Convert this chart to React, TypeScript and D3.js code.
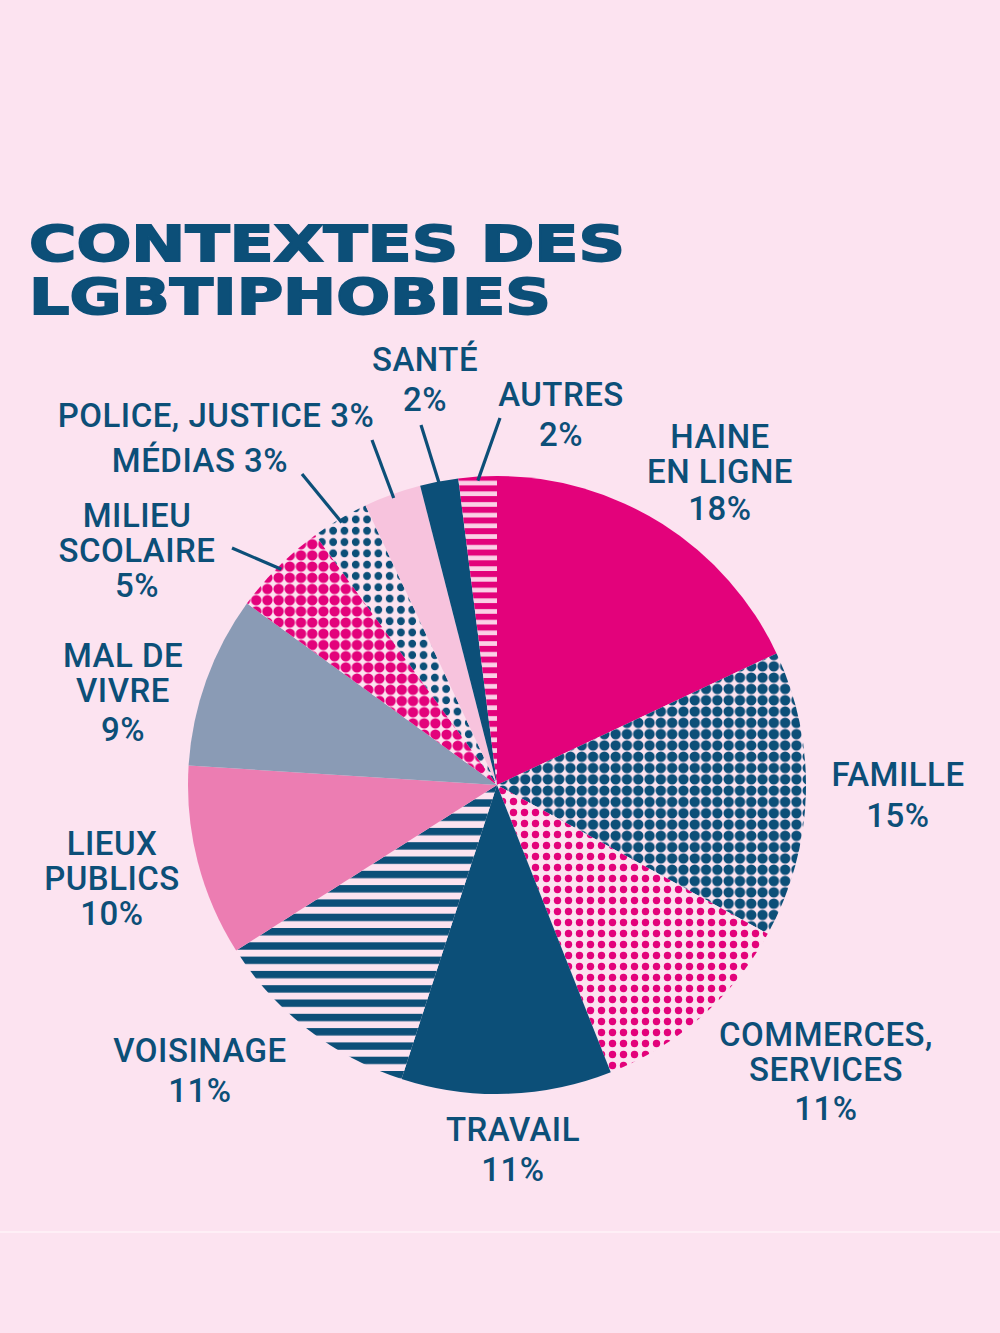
import React from "react";
import * as d3 from "d3";

const categories = [
  "HAINE EN LIGNE",
  "FAMILLE",
  "COMMERCES, SERVICES",
  "TRAVAIL",
  "VOISINAGE",
  "LIEUX PUBLICS",
  "MAL DE VIVRE",
  "MILIEU SCOLAIRE",
  "MÉDIAS",
  "POLICE, JUSTICE",
  "SANTÉ",
  "AUTRES",
];
const values = [18, 15, 11, 11, 11, 10, 9, 5, 3, 3, 2, 2];

const W = 1000;
const H = 1333;
const BG = "#fce3f0";
const TEAL = "#0c4f78";
const MAGENTA = "#e3027b";

// fill per category (styles kept separately from data)
const FILLS: Record<string, string> = {
  "HAINE EN LIGNE": MAGENTA,
  FAMILLE: "url(#p-famille)",
  "COMMERCES, SERVICES": "url(#p-commerces)",
  TRAVAIL: TEAL,
  VOISINAGE: "url(#p-voisinage)",
  "LIEUX PUBLICS": "#ec7db2",
  "MAL DE VIVRE": "#8a9bb5",
  "MILIEU SCOLAIRE": "url(#p-scolaire)",
  MÉDIAS: "url(#p-medias)",
  "POLICE, JUSTICE": "#f7c3dd",
  SANTÉ: TEAL,
  AUTRES: "url(#p-autres)",
};

// label layout: lines, anchor center x, first baseline y, line offsets
const LABELS: Record<string, { lines: string[]; x: number; y: number; gap: number[] }> = {
  "HAINE EN LIGNE": { lines: ["HAINE", "EN LIGNE", "18%"], x: 720, y: 448, gap: [0, 35, 72] },
  FAMILLE: { lines: ["FAMILLE", "15%"], x: 898, y: 786, gap: [0, 41] },
  "COMMERCES, SERVICES": { lines: ["COMMERCES,", "SERVICES", "11%"], x: 826, y: 1046, gap: [0, 35, 74] },
  TRAVAIL: { lines: ["TRAVAIL", "11%"], x: 513, y: 1141, gap: [0, 40] },
  VOISINAGE: { lines: ["VOISINAGE", "11%"], x: 200, y: 1062, gap: [0, 40] },
  "LIEUX PUBLICS": { lines: ["LIEUX", "PUBLICS", "10%"], x: 112, y: 855, gap: [0, 35, 70] },
  "MAL DE VIVRE": { lines: ["MAL DE", "VIVRE", "9%"], x: 123, y: 667, gap: [0, 35, 74] },
  "MILIEU SCOLAIRE": { lines: ["MILIEU", "SCOLAIRE", "5%"], x: 137, y: 527, gap: [0, 35, 70] },
  MÉDIAS: { lines: ["MÉDIAS 3%"], x: 200, y: 472, gap: [0] },
  "POLICE, JUSTICE": { lines: ["POLICE, JUSTICE 3%"], x: 216, y: 427, gap: [0] },
  SANTÉ: { lines: ["SANTÉ", "2%"], x: 425, y: 371, gap: [0, 40] },
  AUTRES: { lines: ["AUTRES", "2%"], x: 561, y: 406, gap: [0, 40] },
};

// leader line outer ends (inner end computed from the arc)
const LEADERS: Record<string, [number, number]> = {
  "MILIEU SCOLAIRE": [232, 548],
  MÉDIAS: [302, 474],
  "POLICE, JUSTICE": [372, 440],
  SANTÉ: [421, 425],
  AUTRES: [500, 418],
};

const CX = 497;
const CY = 785;
const R = 309;

export default function App() {
  const data = categories.map((c, i) => ({ c, v: values[i] }));
  const pie = d3.pie<{ c: string; v: number }>().value((d) => d.v).sort(null);
  const arcs = pie(data);
  const arc = d3.arc<d3.PieArcDatum<{ c: string; v: number }>>().innerRadius(0).outerRadius(R);
  const edge = (a: d3.PieArcDatum<any>, r: number) => {
    const m = (a.startAngle + a.endAngle) / 2;
    return [CX + r * Math.sin(m), CY - r * Math.cos(m)];
  };

  return (
    <svg width={W} height={H} style={{ display: "block", position: "absolute", left: 0, top: 0 }}>
      <defs>
        <pattern id="p-famille" patternUnits="userSpaceOnUse" width={11.3} height={11.3}>
          <rect width={11.3} height={11.3} fill={BG} />
          <circle cx={5.65} cy={5.65} r={5.2} fill={TEAL} />
        </pattern>
        <pattern id="p-commerces" patternUnits="userSpaceOnUse" width={11} height={11}>
          <rect width={11} height={11} fill={BG} />
          <circle cx={5.5} cy={5.5} r={3.7} fill={MAGENTA} />
        </pattern>
        <pattern id="p-scolaire" patternUnits="userSpaceOnUse" width={11.2} height={11.2}>
          <rect width={11.2} height={11.2} fill={BG} />
          <circle cx={5.6} cy={5.6} r={5.2} fill={MAGENTA} />
        </pattern>
        <pattern id="p-medias" patternUnits="userSpaceOnUse" width={11.3} height={11.3}>
          <rect width={11.3} height={11.3} fill={BG} />
          <circle cx={5.65} cy={5.65} r={3.9} fill={TEAL} />
        </pattern>
        <pattern id="p-voisinage" patternUnits="userSpaceOnUse" width={20} height={14.3}>
          <rect width={20} height={14.3} fill={BG} />
          <rect y={0} width={20} height={7.4} fill={TEAL} />
        </pattern>
        <pattern id="p-autres" patternUnits="userSpaceOnUse" width={20} height={10.7}>
          <rect width={20} height={10.7} fill="#fbd0e6" />
          <rect y={0} width={20} height={6} fill={MAGENTA} />
        </pattern>
      </defs>
      <rect width={W} height={H} fill={BG} />
      <line x1={0} x2={W} y1={1232} y2={1232} stroke="#fff3f9" strokeWidth={1.5} />

      <g fill={TEAL} style={{ fontFamily: "'DejaVu Sans', sans-serif", fontWeight: 900 }}>
        <text x={29} y={261} fontSize={50} textLength={596} lengthAdjust="spacingAndGlyphs" stroke={TEAL} strokeWidth={1.8}>
          CONTEXTES DES
        </text>
        <text x={29} y={314} fontSize={50} textLength={522} lengthAdjust="spacingAndGlyphs" stroke={TEAL} strokeWidth={1.8}>
          LGBTIPHOBIES
        </text>
      </g>

      <g transform={`translate(${CX},${CY})`}>
        {arcs.map((a) => (
          <path key={a.data.c} d={arc(a) || ""} fill={FILLS[a.data.c]} />
        ))}
      </g>

      <g stroke={TEAL} strokeWidth={3.2} strokeLinecap="butt">
        {arcs
          .filter((a) => LEADERS[a.data.c])
          .map((a) => {
            const [x1, y1] = edge(a, R - 4);
            const [x2, y2] = LEADERS[a.data.c];
            return <line key={a.data.c} x1={x1} y1={y1} x2={x2} y2={y2} />;
          })}
      </g>

      <g
        fill={TEAL}
        textAnchor="middle"
        style={{ fontFamily: "Roboto, sans-serif", fontWeight: 500, letterSpacing: "0.5px" }}
        fontSize={33}
      >
        {categories.map((c) => {
          const L = LABELS[c];
          return (
            <text key={c}>
              {L.lines.map((t, i) => (
                <tspan key={i} x={L.x} y={L.y + L.gap[i]}>
                  {t}
                </tspan>
              ))}
            </text>
          );
        })}
      </g>
    </svg>
  );
}
